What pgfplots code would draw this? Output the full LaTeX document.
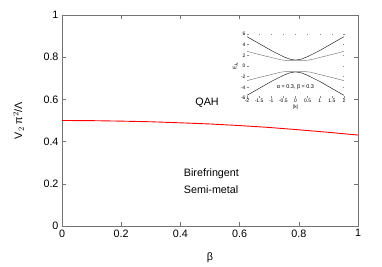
\documentclass[border=0pt]{standalone}
\usepackage{fontspec}
\setmainfont{Liberation Sans}
\usepackage{pgfplots}
\pgfplotsset{compat=1.18}
\begin{document}
\begin{tikzpicture}[font=\fontsize{10.8}{13}\selectfont]
\begin{axis}[name=main,
  scale only axis, width=296bp, height=211bp,
  xmin=0, xmax=1, ymin=0, ymax=1,
  xtick={0,0.2,...,1}, ytick={0,0.2,...,1},
  tick align=inside, tick pos=both,
  axis line style={draw=black!55},
  every tick/.style={draw=black!55},
  major tick length=4bp,
  /pgf/number format/assume math mode=true,
  tick label style={font=\fontsize{10.8}{13}\selectfont},
  xlabel={β}, ylabel={V$_2$ π$^2$/Λ},
  xlabel style={at={(axis description cs:0.5,-0.15)}, anchor=center},
  ylabel style={at={(axis description cs:-0.147,0.5)}, anchor=center},
]
\addplot[red, line width=0.9pt] coordinates {
(0,0.5) (0.1,0.4993) (0.2,0.497) (0.3,0.494) (0.4,0.489) (0.5,0.4835)
(0.6,0.476) (0.7,0.467) (0.8,0.456) (0.9,0.444) (1.0,0.431)};
\node at (axis cs:0.49,0.583) {QAH};
\node[anchor=west] at (axis cs:0.40,0.246) {Birefringent};
\node[anchor=west] at (axis cs:0.40,0.170) {Semi-metal};
\end{axis}
\coordinate (insetpos) at ([xshift=185bp,yshift=128bp]main.south west);
\begin{axis}[at={(insetpos)}, anchor=south west,
  scale only axis, width=97bp, height=64bp,
  xmin=-2, xmax=2, ymin=-6, ymax=6,
  xtick={-2,-1.5,...,2}, ytick={-6,-4,...,6},
  axis line style={draw=none},
  tick align=inside, tick pos=both,
  every tick/.style={draw=black!45},
  major tick length=1.5bp,
  /pgf/number format/assume math mode=true,
  tick label style={font=\fontsize{5}{6}\selectfont},
  xticklabel style={yshift=2bp},
  yticklabel style={xshift=2bp},
  xlabel={|k|}, ylabel={E$_k$},
  label style={font=\fontsize{5}{6}\selectfont},
  xlabel style={yshift=5bp},
  ylabel style={yshift=-4bp},
]
\addplot[black!85, line width=0.5pt] coordinates {
(-2,5.5) (-1.5,4.2) (-1,2.9) (-0.5,1.75) (-0.25,1.3) (0,1.1) (0.25,1.3) (0.5,1.75) (1,2.9) (1.5,4.2) (2,5.5)};
\addplot[black!85, line width=0.5pt] coordinates {
(-2,-5.5) (-1.5,-4.2) (-1,-2.9) (-0.5,-1.75) (-0.25,-1.3) (0,-1.1) (0.25,-1.3) (0.5,-1.75) (1,-2.9) (1.5,-4.2) (2,-5.5)};
\addplot[black!50, line width=0.5pt] coordinates {
(-2,2.75) (-1.5,2.15) (-1,1.6) (-0.6,1.15) (-0.3,1.0) (0,1.1) (0.3,1.0) (0.6,1.15) (1,1.6) (1.5,2.15) (2,2.75)};
\addplot[black!50, line width=0.5pt] coordinates {
(-2,-2.75) (-1.5,-2.15) (-1,-1.6) (-0.6,-1.15) (-0.3,-1.0) (0,-1.1) (0.3,-1.0) (0.6,-1.15) (1,-1.6) (1.5,-2.15) (2,-2.75)};
\node[font=\fontsize{5.5}{6}\selectfont] at (axis cs:0,-4.0) {α = 0.3, β = 0.3};
\end{axis}
\pgfresetboundingbox
\path[use as bounding box] ([xshift=-62bp,yshift=-41bp]main.south west) rectangle ++(382bp,267bp);
\end{tikzpicture}
\end{document}
